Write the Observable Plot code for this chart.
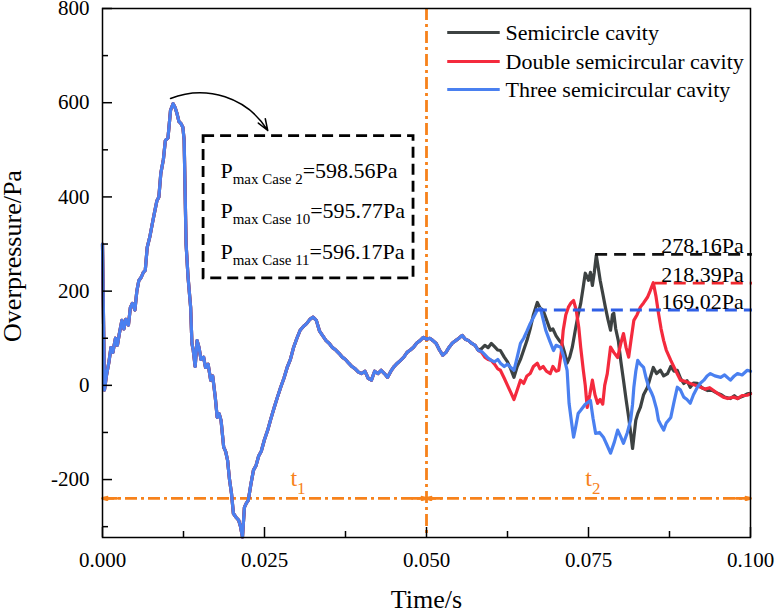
<!DOCTYPE html>
<html><head><meta charset="utf-8">
<script src="https://cdn.jsdelivr.net/npm/d3@7"></script>
<script src="https://cdn.jsdelivr.net/npm/@observablehq/plot@0.6"></script>
<style>
body{margin:0;background:#fff}
#chart{width:776px;height:610px}
#chart svg, #chart svg text, #chart svg tspan{font-family:"Liberation Serif","Times New Roman","DejaVu Serif",serif !important}
</style>
</head><body><div id="chart"></div>
<script>
const seriesNames = ["Semicircle cavity", "Double semicircular cavity", "Three semicircular cavity"];
const seriesColors = ["#3d4242", "#f42a3d", "#4a80f0"];

// shared part of the three curves (they overlap up to ~0.058 s)
const sharedTime = [0,0.0003,0.0006,0.001,0.0013,0.0016,0.002,0.0023,0.0026,0.003,0.0033,0.0036,0.004,0.0043,0.0046,0.005,0.0053,0.0056,0.006,0.0063,0.0066,0.0069,0.0073,0.0077,0.008,0.0084,0.0087,0.009,0.0094,0.0097,0.0101,0.0105,0.0109,0.0112,0.0115,0.0118,0.0121,0.0124,0.0126,0.0129,0.0132,0.0136,0.0138,0.014,0.0143,0.0146,0.0149,0.0152,0.0156,0.0159,0.0163,0.0167,0.017,0.0174,0.0177,0.018,0.0183,0.0187,0.019,0.0193,0.0196,0.0199,0.0202,0.0206,0.021,0.0213,0.0216,0.0219,0.0222,0.0225,0.0229,0.0233,0.0237,0.0241,0.0245,0.025,0.0255,0.026,0.0265,0.027,0.0275,0.028,0.0285,0.029,0.0295,0.03,0.0305,0.031,0.0315,0.032,0.0325,0.033,0.0335,0.034,0.0345,0.035,0.0355,0.036,0.0365,0.037,0.0375,0.038,0.0385,0.039,0.0395,0.04,0.0405,0.041,0.0415,0.042,0.0425,0.043,0.0435,0.044,0.0445,0.045,0.0455,0.046,0.0465,0.047,0.0475,0.048,0.0485,0.049,0.0495,0.05,0.0505,0.051,0.0515,0.052,0.0525,0.053,0.0535,0.054,0.0545,0.055,0.0555,0.056,0.0565,0.057,0.0575,0.058];
const sharedP = [300,-10,20,50,80,70,100,85,110,138,120,140,128,165,174,160,200,222,230,240,244,293,315,344,365,392,400,450,480,520,525,584,598,590,577,560,556,548,520,300,230,166,89,75,40,95,80,55,60,38,45,11,20,-25,-68,-60,-75,-131,-140,-159,-200,-229,-272,-280,-286,-300,-322,-259,-250,-244,-210,-180,-170,-150,-140,-115,-95,-70,-47,-25,-4,15,38,55,81,100,117,125,131,140,145,138,115,105,95,89,80,75,68,60,55,47,40,35,28,25,30,15,11,30,25,32,25,17,30,40,47,53,60,70,75,81,90,95,102,98,100,95,89,75,64,70,81,90,95,100,106,98,95,89,85,74];

const semiTime = [0.0585,0.059,0.0595,0.06,0.0605,0.061,0.0614,0.062,0.0625,0.063,0.0635,0.064,0.0645,0.065,0.0655,0.066,0.0665,0.0671,0.0675,0.068,0.0685,0.0691,0.0695,0.07,0.0705,0.0709,0.0713,0.0717,0.0721,0.0725,0.073,0.0734,0.0738,0.0742,0.0745,0.0748,0.075,0.0753,0.0756,0.0759,0.0762,0.0765,0.0768,0.0772,0.0776,0.078,0.0784,0.0787,0.0789,0.0792,0.0796,0.08,0.0804,0.0808,0.0812,0.0815,0.0818,0.082,0.0823,0.0826,0.083,0.0835,0.0841,0.0845,0.085,0.0855,0.0861,0.0866,0.0872,0.0877,0.0882,0.0887,0.0892,0.0897,0.0902,0.0907,0.0912,0.0918,0.0925,0.0934,0.094,0.0949,0.0955,0.096,0.0969,0.0975,0.098,0.0985,0.099,0.0995,0.1];
const semiP = [78,85,80,89,82,75,74,60,50,35,17,40,55,75,95,120,150,176,165,159,140,117,120,105,95,89,70,47,60,81,120,150,174,210,238,230,223,240,212,240,276,250,223,195,166,140,117,150,153,120,95,50,11,-30,-68,-100,-134,-110,-74,-60,-47,-20,-4,15,38,25,32,20,25,40,30,32,15,4,10,-4,5,4,-5,-11,-10,-17,-20,-25,-28,-22,-28,-25,-22,-18,-17];

const doubleTime = [0.0585,0.059,0.0595,0.06,0.0605,0.061,0.0614,0.062,0.0625,0.063,0.0635,0.064,0.0645,0.065,0.0655,0.066,0.0665,0.0671,0.0675,0.068,0.0685,0.0691,0.0695,0.07,0.0704,0.0708,0.0711,0.0715,0.0719,0.0723,0.0727,0.0731,0.0735,0.0738,0.0742,0.0745,0.0748,0.0752,0.0756,0.076,0.0764,0.0768,0.0772,0.0775,0.0779,0.0784,0.0789,0.0795,0.08,0.0804,0.0808,0.0812,0.0816,0.082,0.0825,0.083,0.0835,0.0841,0.0845,0.085,0.0854,0.0858,0.0862,0.0866,0.087,0.0877,0.0885,0.0892,0.09,0.0907,0.0915,0.0923,0.093,0.0937,0.0943,0.095,0.0958,0.0965,0.0974,0.098,0.0987,0.0995,0.1];
const doubleP = [70,60,55,53,45,35,32,15,0,-15,-30,-10,11,4,20,25,40,47,35,40,30,25,40,30,32,70,117,150,166,175,180,160,123,80,32,0,-47,-20,11,-20,-38,-30,-40,0,25,81,70,59,90,110,80,60,100,138,150,166,175,187,200,218,190,153,120,95,75,53,30,11,8,4,0,-4,-8,-5,-11,-18,-25,-28,-25,-28,-22,-21,-18];

const threeTime = [0.0585,0.059,0.0595,0.06,0.0605,0.061,0.0614,0.062,0.0625,0.063,0.0635,0.064,0.0645,0.065,0.0655,0.066,0.0665,0.0671,0.0676,0.068,0.0684,0.069,0.0696,0.07,0.0707,0.0712,0.0717,0.072,0.0724,0.0727,0.073,0.0734,0.0738,0.0745,0.0753,0.0757,0.0761,0.0767,0.0773,0.0778,0.0784,0.079,0.0795,0.08,0.0804,0.081,0.0815,0.0818,0.082,0.0823,0.0826,0.083,0.0835,0.0839,0.0843,0.0847,0.085,0.0855,0.0858,0.0862,0.0866,0.087,0.0877,0.0882,0.0887,0.0892,0.0897,0.0902,0.0907,0.0912,0.0918,0.0923,0.0928,0.0933,0.0938,0.0945,0.0954,0.096,0.0969,0.0975,0.098,0.0987,0.0995,0.1];
const threeP = [72,65,58,53,50,55,47,40,45,38,32,60,89,100,115,131,144,160,163,140,117,95,74,85,81,60,32,-38,-80,-110,-90,-60,-53,-40,-32,-70,-102,-100,-110,-125,-144,-120,-95,-110,-123,-100,-74,-40,-4,30,53,45,38,15,-4,-15,-25,-50,-74,-85,-95,-80,-68,-35,-4,-10,-25,-30,-38,-20,-4,5,11,20,25,20,17,22,11,20,25,22,32,30];

// peak levels in the second interval
const levelStart = [0.0761, 0.0853, 0.0668];
const levelValues = [278, 217, 160];
const levelLabels = ["278.16Pa", "218.39Pa", "169.02Pa"];
const levelColors = ["#111111", "#f0282e", "#2f5fe6"];

// maximum overpressure annotation
const boxSubs = ["max Case 2", "max Case 10", "max Case 11"];
const boxValues = ["=598.56Pa", "=595.77Pa", "=596.17Pa"];

// time intervals
const intervalSplit = 0.05;
const intervalLevel = -240;
const intervalNames = ["1", "2"];
const intervalSpans = [[0, 0.05], [0.05, 0.1]];

const xTicks = [0, 0.025, 0.05, 0.075, 0.1];
const xMinor = [0.0125, 0.0375, 0.0625, 0.0875];
const yTicks = [-200, 0, 200, 400, 600, 800];
const yMinor = [-300, -100, 100, 300, 500, 700];

// ---- build tables ----
const lateTimes = [semiTime, doubleTime, threeTime];
const lateP = [semiP, doubleP, threeP];
const rows = [];
seriesNames.forEach((name, s) => {
  sharedTime.forEach((t, i) => rows.push({series: name, t, p: sharedP[i]}));
  lateTimes[s].forEach((t, i) => rows.push({series: name, t, p: lateP[s][i]}));
});
const levels = levelValues.map((v, i) => ({start: levelStart[i], value: v, label: levelLabels[i], color: levelColors[i]}));
const boxLines = boxSubs.map((s, i) => ({text: `P|${s}|${boxValues[i]}`}));
const arrowEnds = [];
intervalSpans.forEach(([a, b]) => {
  arrowEnds.push({from: a + 0.0022, to: a});
  arrowEnds.push({from: b - 0.0022, to: b});
});
const intervalText = intervalNames.map((n) => ({text: `t|${n}`}));

const orange = "#f7821b";
const serif = "Liberation Serif";
const color = {domain: seriesNames, range: seriesColors};
const legendY = [749, 687.5, 628];
const boxY = [456, 371, 283];

const chart = Plot.plot({
  width: 776, height: 610,
  marginLeft: 102, marginRight: 26, marginTop: 8, marginBottom: 73,
  x: {domain: [0, 0.1]},
  y: {domain: [-323, 800]},
  color,
  style: {background: "white", color: "black", overflow: "visible"},
  marks: [
    Plot.ruleX([intervalSplit], {stroke: orange, strokeWidth: 2.8, strokeDasharray: "12,4,3,4"}),
    Plot.ruleY([intervalLevel], {x1: () => intervalSpans[0][0], x2: () => intervalSpans[1][1], stroke: orange, strokeWidth: 2.8, strokeDasharray: "12,4,3,4"}),
    Plot.arrow(arrowEnds, {x1: "from", x2: "to", y1: () => intervalLevel, y2: () => intervalLevel, stroke: orange, strokeWidth: 2.8, headLength: 12, headAngle: 28}),
    Plot.text(intervalText, {x: (d, i) => [0.029, 0.0745][i], y: () => intervalLevel, text: "text", dy: -20, textAnchor: "start", fill: orange, fontSize: 24}),
    Plot.line(rows, {x: "t", y: "p", z: "series", stroke: "series", strokeWidth: 3.2, strokeLinejoin: "round"}),
    Plot.ruleY(levels, {y: "value", x1: "start", x2: () => 0.1003, stroke: "color", strokeWidth: 2.8, strokeDasharray: "12,7"}),
    Plot.text(levels, {x: () => 0.0926, y: "value", text: "label", lineAnchor: "bottom", dy: -1, fontSize: 22, fill: "black"}),
    Plot.rect([{}], {x1: () => 0.0156, x2: () => 0.048, y1: () => 227, y2: () => 529, fill: "none", stroke: "black", strokeWidth: 2.8, strokeDasharray: "11,6"}),
    Plot.text(boxLines, {x: () => 0.0182, y: (d, i) => boxY[i], text: "text", textAnchor: "start", fontSize: 22, fill: "black"}),
    Plot.arrow([{}], {x1: () => 0.0105, y1: () => 609, x2: () => 0.0255, y2: () => 541, bend: 40, stroke: "black", strokeWidth: 1.5, headLength: 12, headAngle: 40}),
    // legend
    Plot.link(seriesNames, {x1: () => 0.0532, x2: () => 0.0613, y1: (d, i) => legendY[i], y2: (d, i) => legendY[i], stroke: (d) => d, strokeWidth: 3.2}),
    Plot.text(seriesNames, {x: () => 0.0622, y: (d, i) => legendY[i], text: (d) => d, textAnchor: "start", fontSize: 22, fill: "black"}),
    // axes
    Plot.axisX(xTicks, {tickSize: -10, tickPadding: 25, tickFormat: d3.format(".3f"), fontSize: 21, label: null, strokeWidth: 1.5}),
    Plot.axisX(xMinor, {tickSize: -6, tickFormat: () => "", label: null, strokeWidth: 1.5}),
    Plot.axisY(yTicks, {tickSize: -10, tickPadding: 23, tickFormat: (d) => String(d), fontSize: 21, label: null, strokeWidth: 1.5}),
    Plot.axisY(yMinor, {tickSize: -6, tickFormat: () => "", label: null, strokeWidth: 1.5}),
    Plot.frame({stroke: "black", strokeWidth: 1.5}),
    Plot.text(["Overpressure/Pa"], {frameAnchor: "left", textAnchor: "middle", lineAnchor: "middle", rotate: -90, dx: -90, dy: -17, fontSize: 26, fill: "black"}),
    Plot.text(["Time/s"], {frameAnchor: "bottom", textAnchor: "middle", lineAnchor: "middle", dy: 62, fontSize: 26, fill: "black"})
  ]
});

// rich text: main|subscript|rest
d3.select(chart).selectAll("text").each(function () {
  const s = this.textContent;
  if (!s || !s.includes("|")) return;
  const [main, sub, rest] = s.split("|");
  const el = d3.select(this);
  const big = main === "t";
  el.text(null);
  el.append("tspan").text(main);
  el.append("tspan").attr("dy", big ? 8 : 6).attr("font-size", big ? 17 : 15).text(sub);
  if (rest) el.append("tspan").attr("dy", -6).text(rest);
});

document.getElementById("chart").appendChild(chart);
</script></body></html>
